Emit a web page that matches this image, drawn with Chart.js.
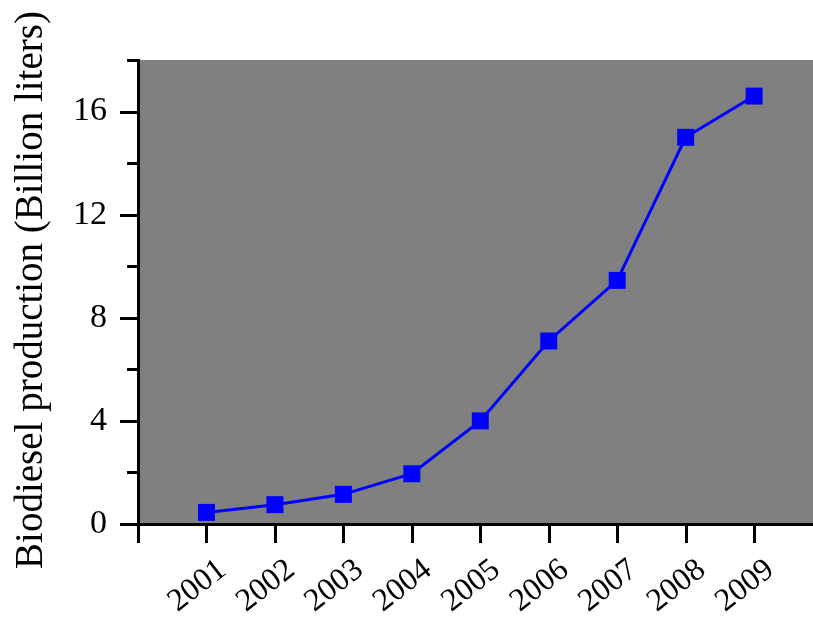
<!DOCTYPE html>
<html>
<head>
<meta charset="utf-8">
<script src="https://cdn.jsdelivr.net/npm/chart.js"></script>
<style>
  html, body { margin: 0; padding: 0; background: #fff; }
  #wrap { width: 813px; height: 618px; }
</style>
</head>
<body>
<div id="wrap"><canvas id="myChart" width="813" height="618"></canvas></div>
<script>
// datos
const years = [2001, 2002, 2003, 2004, 2005, 2006, 2007, 2008, 2009];
const production = [0.45, 0.75, 1.15, 1.95, 4.0, 7.1, 9.45, 15.0, 16.6];
const yearTicks = [2000, 2001, 2002, 2003, 2004, 2005, 2006, 2007, 2008, 2009];
const yTitle = 'Biodiesel production (Billion liters)';

const serif = '"Liberation Serif", "Times New Roman", serif';

// fondo gris del area de trazado
const bgPlugin = {
  id: 'grayBg',
  beforeDraw(chart) {
    const a = chart.chartArea;
    const ctx = chart.ctx;
    ctx.save();
    ctx.fillStyle = '#808080';
    ctx.fillRect(a.left, a.top, a.right - a.left, a.bottom - a.top);
    ctx.restore();
  }
};

// marcas de los ejes, titulo del eje Y y etiquetas giradas del eje X
const axisPlugin = {
  id: 'axisMarks',
  afterDraw(chart) {
    const ctx = chart.ctx;
    const a = chart.chartArea;
    const xs = chart.scales.x;
    const ys = chart.scales.y;
    ctx.save();
    ctx.strokeStyle = '#000';
    ctx.lineWidth = 3;
    ys.ticks.forEach(t => {
      const y = Math.round(ys.getPixelForValue(t.value)) + 0.5;
      const len = t.value % 4 === 0 ? 18 : 11;
      ctx.beginPath();
      ctx.moveTo(a.left - len, y);
      ctx.lineTo(a.left, y);
      ctx.stroke();
    });
    xs.ticks.forEach(t => {
      const x = Math.round(xs.getPixelForValue(t.value)) + 0.5;
      ctx.beginPath();
      ctx.moveTo(x, a.bottom);
      ctx.lineTo(x, a.bottom + 19);
      ctx.stroke();
    });
    ctx.fillStyle = '#000';
    ctx.font = '32px ' + serif;
    ctx.textAlign = 'center';
    ctx.textBaseline = 'middle';
    years.forEach(v => {
      const x = xs.getPixelForValue(v);
      ctx.save();
      ctx.translate(x - 9, a.bottom + 62);
      ctx.rotate(-38 * Math.PI / 180);
      ctx.fillText(String(v), 0, 0);
      ctx.restore();
    });
    // titulo del eje Y
    ctx.font = '39px ' + serif;
    ctx.textBaseline = 'alphabetic';
    ctx.translate(42, (a.top + a.bottom) / 2 - 2);
    ctx.rotate(-Math.PI / 2);
    ctx.fillText(yTitle, 0, 0);
    ctx.restore();
  }
};

const ctx = document.getElementById('myChart');
new Chart(ctx, {
  type: 'line',
  data: {
    datasets: [{
      label: 'Biodiesel',
      data: years.map((y, i) => ({ x: y, y: production[i] })),
      borderColor: '#0000ff',
      backgroundColor: '#0000ff',
      borderWidth: 3,
      pointStyle: 'rect',
      pointRadius: 12,
      pointBorderWidth: 0,
      tension: 0
    }]
  },
  options: {
    responsive: false,
    animation: false,
    layout: { autoPadding: false, padding: { top: 60, right: 0, left: 0, bottom: 0 } },
    plugins: {
      legend: { display: false },
      tooltip: { enabled: false }
    },
    scales: {
      x: {
        type: 'linear',
        min: 2000,
        max: 2009.86,
        afterBuildTicks: s => { s.ticks = yearTicks.map(v => ({ value: v })); },
        afterFit: s => { s.height = 94; },
        grid: { display: true, drawOnChartArea: false, drawTicks: false },
        border: { display: true, color: '#000', width: 3 },
        ticks: { display: false }
      },
      y: {
        min: 0,
        max: 18,
        afterFit: s => { s.width = 138; },
        grid: { display: true, drawOnChartArea: false, drawTicks: false },
        border: { display: true, color: '#000', width: 3 },
        ticks: {
          stepSize: 2,
          padding: 31,
          color: '#000',
          font: { family: serif, size: 34 },
          callback: v => (v % 4 === 0 ? v : '')
        }
      }
    }
  },
  plugins: [bgPlugin, axisPlugin]
});
</script>
</body>
</html>
